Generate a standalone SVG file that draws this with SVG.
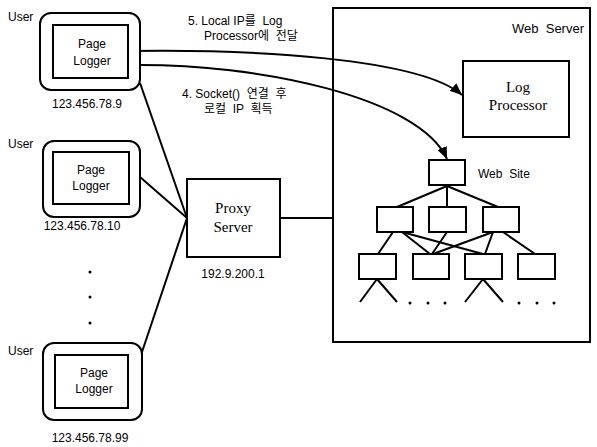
<svg xmlns="http://www.w3.org/2000/svg" width="597" height="447" viewBox="0 0 597 447">
<style>
.ln{fill:none;stroke:#000;stroke-width:2}
.bx{fill:#fff;stroke:#000;stroke-width:2}
.s{font-family:"Liberation Sans",Arial,"Noto Sans CJK KR",sans-serif;font-size:12px;fill:#000;white-space:pre}
.r{font-family:"Liberation Serif","Times New Roman",serif;font-size:15px;fill:#000}
.m{text-anchor:middle}
</style>
<defs>
<marker id="ah" viewBox="0 0 12 10" refX="12" refY="5" markerWidth="6" markerHeight="5" orient="auto-start-reverse" markerUnits="strokeWidth">
<path d="M0,0 L12,5 L0,10 z" fill="#000"/>
</marker>
</defs>
<rect width="597" height="447" fill="#fff"/>

<g id="web-server">
<rect class="bx" x="333" y="8" width="257" height="334"/>
<text class="s" x="512" y="33" style="font-size:13px" xml:space="preserve">Web  Server</text>
</g>

<g id="connectors">
<line class="ln" x1="140" y1="83" x2="187" y2="218"/>
<line class="ln" x1="140" y1="177" x2="187" y2="218"/>
<line class="ln" x1="142" y1="352" x2="187" y2="218"/>
<line class="ln" x1="280" y1="218" x2="333" y2="218"/>
<path class="ln" d="M128,51 C250,49 420,58 462,95" marker-end="url(#ah)"/>
<path class="ln" d="M129,65 C260,63 420,98 447,159" marker-start="url(#ah)" marker-end="url(#ah)"/>
<g class="ln">
<line x1="447" y1="186" x2="397" y2="207"/>
<line x1="447" y1="186" x2="447" y2="207"/>
<line x1="447" y1="186" x2="498" y2="207"/>
<line x1="393" y1="232" x2="378" y2="254"/>
<line x1="402" y1="232" x2="430" y2="254"/>
<line x1="402" y1="232" x2="483" y2="254"/>
<line x1="447" y1="232" x2="432" y2="254"/>
<line x1="493" y1="232" x2="433" y2="254"/>
<line x1="493" y1="232" x2="485" y2="254"/>
<line x1="503" y1="232" x2="535" y2="254"/>
<line x1="377" y1="279" x2="360" y2="302"/>
<line x1="377" y1="279" x2="397" y2="302"/>
<line x1="483" y1="279" x2="465" y2="302"/>
<line x1="483" y1="279" x2="503" y2="302"/>
</g>
</g>

<g id="labels">
<text class="s" x="188" y="25" xml:space="preserve">5. Local IP를  Log</text>
<text class="s" x="204" y="40" xml:space="preserve">Processor에  전달</text>
<text class="s" x="182" y="98" xml:space="preserve">4. Socket()  연결  후</text>
<text class="s" x="204" y="113" xml:space="preserve">로컬  IP  획득</text>
</g>

<g id="user1">
<text class="s" x="8" y="21">User</text>
<rect class="bx" x="40" y="13" width="100" height="77" rx="11"/>
<rect class="bx" x="53" y="25" width="75" height="53"/>
<text class="s m" x="92" y="48">Page</text>
<text class="s m" x="92" y="65">Logger</text>
<text class="s m" x="87" y="108">123.456.78.9</text>
</g>

<g id="user2">
<text class="s" x="8" y="148">User</text>
<rect class="bx" x="43" y="141" width="97" height="76" rx="11"/>
<rect class="bx" x="53" y="152" width="76" height="52"/>
<text class="s m" x="91" y="174">Page</text>
<text class="s m" x="91" y="190">Logger</text>
<text class="s m" x="82" y="230">123.456.78.10</text>
</g>

<g id="dots">
<circle cx="90" cy="272" r="1.5"/>
<circle cx="90" cy="297" r="1.5"/>
<circle cx="90" cy="323" r="1.5"/>
</g>

<g id="user3">
<text class="s" x="8" y="355">User</text>
<rect class="bx" x="43" y="343" width="99" height="77" rx="11"/>
<rect class="bx" x="55" y="355" width="73" height="53"/>
<text class="s m" x="94" y="377">Page</text>
<text class="s m" x="94" y="393">Logger</text>
<text class="s m" x="90" y="442">123.456.78.99</text>
</g>

<g id="proxy-server">
<rect class="bx" x="187" y="179" width="93" height="78"/>
<text class="r m" x="233" y="213">Proxy</text>
<text class="r m" x="233" y="232">Server</text>
<text class="s m" x="233" y="278">192.9.200.1</text>
</g>

<g id="log-processor">
<rect class="bx" x="463" y="61" width="106" height="76"/>
<text class="r m" x="518" y="92">Log</text>
<text class="r m" x="518" y="110">Processor</text>
</g>

<g id="web-site">
<rect class="bx" x="429" y="160" width="36" height="25"/>
<text class="s" x="478" y="178" xml:space="preserve">Web  Site</text>
<rect class="bx" x="377" y="207" width="36" height="25"/>
<rect class="bx" x="429" y="207" width="37" height="25"/>
<rect class="bx" x="483" y="207" width="36" height="25"/>
<rect class="bx" x="359" y="254" width="37" height="25"/>
<rect class="bx" x="413" y="254" width="36" height="25"/>
<rect class="bx" x="465" y="254" width="37" height="25"/>
<rect class="bx" x="518" y="254" width="37" height="25"/>
<g>
<circle cx="410" cy="303" r="1.5"/>
<circle cx="428" cy="303" r="1.5"/>
<circle cx="445" cy="303" r="1.5"/>
<circle cx="519" cy="303" r="1.5"/>
<circle cx="537" cy="303" r="1.5"/>
<circle cx="554" cy="303" r="1.5"/>
</g>
</g>
</svg>
